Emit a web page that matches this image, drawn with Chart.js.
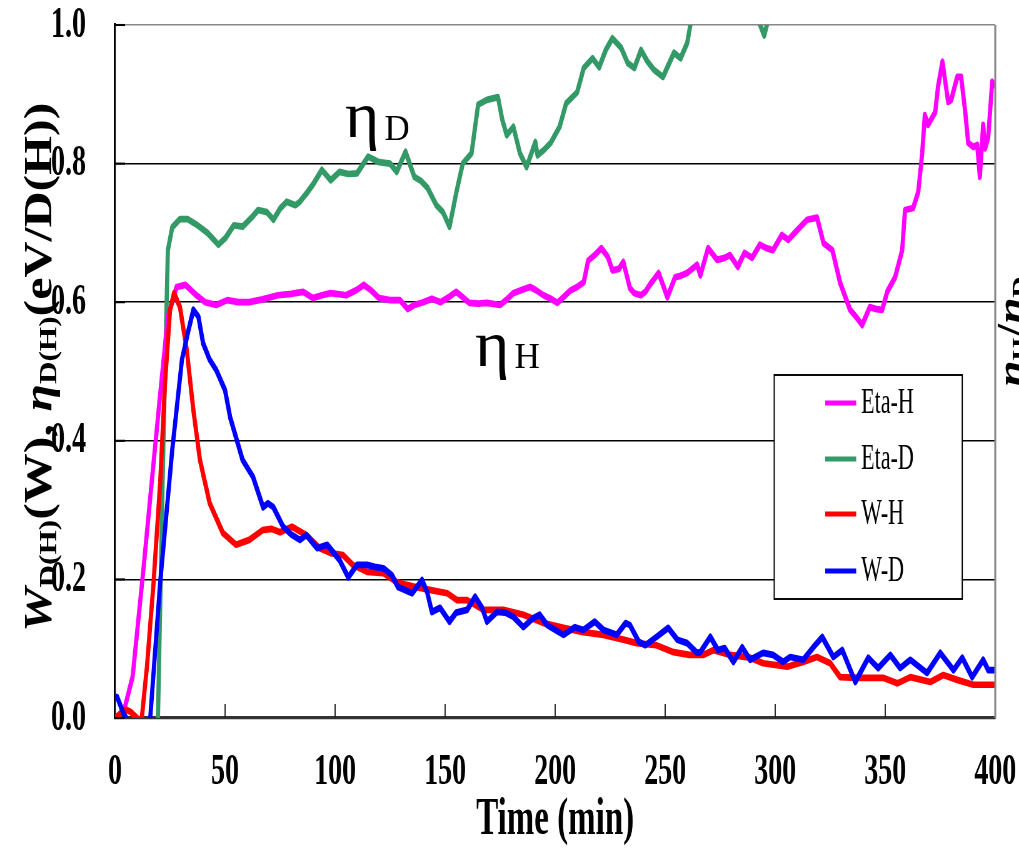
<!DOCTYPE html>
<html>
<head>
<meta charset="utf-8">
<script src="https://cdn.jsdelivr.net/npm/chart.js@4.4.1/dist/chart.umd.min.js"></script>
<style>
  html, body { margin: 0; padding: 0; background: #fff; overflow: hidden; }
  /* the plot is laid out in a short frame and stretched tall */
  #wrap { position: absolute; left: 0; top: 0; width: 1019px; height: 530px;
          transform: scaleY(1.6); transform-origin: 0 0; }
</style>
</head>
<body>
<div id="wrap"><canvas id="c" width="1019" height="530"></canvas></div>
<script>
// Time axis (min) and value axis ticks
const xTicks = [0, 50, 100, 150, 200, 250, 300, 350, 400];
const yTicks = [0.0, 0.2, 0.4, 0.6, 0.8, 1.0];

// Eta-H : energy per desorbed H (eV/H)
const etaHTime = [1,4.5,8,13,17.5,21,24,28,32,37,41,46,51,56,61,67,74,80,85.5,90,94,98,105,110,113,116,120,125,129.5,133,136,140,144,148,152,155,158,161,165,169,175,178,181,185,188.6,191,194.7,198,201,204,207,210,213,215,218,221,224,226,229,231,234,236,239,241,243,247,249,251,254.5,257,260,264.5,266,269.5,273.6,277,279.5,283,286,289.5,293,296,299,303,306,310,314.5,319,322,326,329.5,334,337,339.5,343,346,348.6,350.9,354.5,357.7,359,362.7,365,366.8,368,369.5,372.7,374,376,378.6,380,382.7,384.5,386.4,387.7,390,391.8,393,394.5,395.4,396.8,398.6,400];
const etaHValue = [0.0,0.016,0.06,0.218,0.368,0.483,0.579,0.622,0.625,0.61,0.60,0.596,0.603,0.60,0.60,0.604,0.61,0.612,0.615,0.606,0.61,0.613,0.61,0.618,0.625,0.618,0.606,0.603,0.603,0.59,0.596,0.60,0.605,0.60,0.608,0.615,0.607,0.599,0.598,0.599,0.596,0.604,0.613,0.618,0.622,0.618,0.61,0.605,0.599,0.608,0.617,0.622,0.629,0.66,0.668,0.678,0.665,0.646,0.648,0.658,0.62,0.613,0.61,0.615,0.625,0.642,0.625,0.607,0.636,0.638,0.642,0.654,0.639,0.678,0.661,0.664,0.668,0.651,0.671,0.664,0.683,0.678,0.675,0.697,0.69,0.704,0.719,0.722,0.685,0.675,0.628,0.589,0.578,0.567,0.593,0.59,0.589,0.615,0.636,0.675,0.733,0.736,0.759,0.815,0.87,0.856,0.874,0.911,0.947,0.889,0.892,0.925,0.925,0.873,0.83,0.824,0.827,0.781,0.856,0.822,0.838,0.918,0.911];

// Eta-D : energy per desorbed D (eV/D)
const etaDTime = [18,19.5,22,24,26,29.5,33,37,42,47,50,54,58,62,65,69,72,75,78,82,84,87,90,94,98,102,106,110,115,120,125,128,132,136,139,142,146,149,152,155,158,162,165,169,174,176,178,181,184,187,191,192,195,198,202,205,210,213,217,220,223,226,230,233,236,239,242,245,249,254,257,260,262,268,276,285,292,295,297,305,320,340,360,380,400];
const etaDValue = [-0.1,0.0,0.4,0.675,0.708,0.72,0.72,0.712,0.70,0.683,0.692,0.711,0.709,0.722,0.733,0.730,0.719,0.735,0.745,0.740,0.745,0.757,0.77,0.791,0.776,0.788,0.785,0.786,0.81,0.802,0.80,0.788,0.817,0.781,0.775,0.765,0.74,0.73,0.709,0.757,0.80,0.815,0.885,0.892,0.896,0.863,0.841,0.853,0.815,0.795,0.831,0.812,0.82,0.83,0.853,0.887,0.903,0.938,0.952,0.939,0.964,0.981,0.967,0.945,0.938,0.964,0.947,0.935,0.925,0.96,0.952,0.974,1.01,1.04,1.06,1.04,1.01,0.985,1.01,1.05,1.08,1.1,1.12,1.15,1.17];

// W-H : input power, H discharge (W)
const wHTime = [0,3,5,7,10,12,14.5,17.5,20.5,22.7,25,26.8,29.5,32.6,35.6,38.6,43,49,55,61,67,71,75,80.4,87,93,98,103.6,108,114.5,122,128,132.6,138,143,151,155.4,160,167.4,176.5,185.6,194.7,203.8,212.8,221.9,231,237,246,253.8,261,267.3,272,279.5,288.6,294.5,305.5,312.7,319,325,329.5,337.3,349,355.5,361.4,370.5,376.4,382.7,390,400];
const wHValue = [0.0,0.008,0.012,0.009,0.0,-0.005,0.074,0.195,0.339,0.483,0.589,0.613,0.593,0.531,0.444,0.372,0.31,0.267,0.25,0.257,0.271,0.273,0.268,0.276,0.264,0.245,0.238,0.235,0.221,0.211,0.209,0.196,0.192,0.188,0.185,0.18,0.17,0.17,0.156,0.156,0.149,0.137,0.13,0.124,0.12,0.113,0.108,0.105,0.095,0.091,0.091,0.098,0.091,0.087,0.079,0.074,0.081,0.088,0.079,0.059,0.058,0.058,0.05,0.059,0.052,0.062,0.055,0.048,0.048];

// W-D : input power, D discharge (W)
const wDTime = [0,1,3.8,6,10,15,16,20.5,26,30.4,33.4,35.6,37.9,40,43,46,50,52.3,58,62.7,67.3,69.5,72,76.4,80,84,87,91.8,96.4,102,106,110,114.5,118,122,125.8,128.6,135,139.5,141.8,144,147.7,152,155,160,163.6,166.8,169,173.6,177.3,181,185.6,190,193,196.4,203.8,209,212.8,218,222,228,232,234,238,241,246,251.4,255.5,260,264.5,266,270.5,274,277,281,285,288.6,294.5,299,303.6,306.8,312.7,317.3,321.4,326.4,330.5,336.4,342.3,346.8,352.3,356.8,361.4,369,375,381,385,389.5,394.5,396.8,400];
const wDValue = [0.03,0.03,0.007,-0.005,-0.02,-0.01,0.0,0.195,0.387,0.517,0.56,0.589,0.579,0.541,0.517,0.502,0.473,0.434,0.372,0.348,0.304,0.31,0.304,0.276,0.265,0.257,0.264,0.245,0.25,0.228,0.203,0.221,0.221,0.218,0.216,0.206,0.189,0.18,0.199,0.182,0.153,0.159,0.139,0.152,0.156,0.175,0.159,0.139,0.153,0.152,0.146,0.131,0.144,0.149,0.134,0.12,0.131,0.127,0.139,0.127,0.12,0.137,0.134,0.11,0.105,0.117,0.13,0.113,0.108,0.094,0.095,0.117,0.098,0.101,0.081,0.102,0.084,0.094,0.091,0.081,0.088,0.084,0.102,0.117,0.088,0.098,0.052,0.087,0.072,0.091,0.072,0.084,0.065,0.094,0.069,0.087,0.059,0.084,0.069,0.069];

const seriesNames = ['Eta-H', 'Eta-D', 'W-H', 'W-D'];
const seriesColors = ['#ff00ff', '#339966', '#ff0000', '#0000ff'];

const S = 1.6;                 // vertical stretch of the frame
const SERIF = '"Liberation Serif", "Times New Roman", serif';

function pts(t, v) { return t.map((tt, i) => ({ x: tt, y: v[i] })); }

function makeSet(i, data, order) {
  return {
    label: seriesNames[i], data, order,
    borderColor: seriesColors[i], backgroundColor: seriesColors[i],
    borderWidth: 4.2, pointRadius: 0, tension: 0, fill: false,
    borderJoinStyle: 'round', clip: 0
  };
}

// draws runs of [text, font, baselineShift] along the current x axis
function drawRuns(ctx, runs) {
  let cx = 0;
  runs.forEach(([txt, font, dy]) => {
    ctx.font = font;
    ctx.fillText(txt, cx, dy);
    cx += ctx.measureText(txt).width;
  });
}

// no extra room for edge labels: the plot area is fixed by the layout padding
function noEdgePadding(s) {
  s.paddingLeft = 0; s.paddingRight = 0; s.paddingTop = 0; s.paddingBottom = 0;
}

const decor = {
  id: 'decor',
  afterDatasetsDraw(chart) {
    const { ctx } = chart;
    // legend box
    const bx = 774, by = 375 / S, bw = 188, bh = 224 / S;
    const rows = [403, 459, 514, 571];
    ctx.save();
    ctx.fillStyle = '#fff';
    ctx.fillRect(bx, by, bw, bh);
    ctx.strokeStyle = '#000';
    ctx.lineWidth = 1.2;
    ctx.strokeRect(bx, by, bw, bh);
    ctx.textBaseline = 'middle';
    ctx.textAlign = 'left';
    ctx.font = '22px ' + SERIF;
    chart.data.datasets.slice().sort((a, b) => seriesNames.indexOf(a.label) - seriesNames.indexOf(b.label))
      .forEach((ds, i) => {
        const ry = rows[i] / S;
        ctx.strokeStyle = ds.borderColor;
        ctx.lineWidth = 3.2;
        ctx.beginPath();
        ctx.moveTo(825, ry); ctx.lineTo(856, ry);
        ctx.stroke();
        ctx.fillStyle = '#000';
        ctx.fillText(ds.label, 861, ry + 0.5);
      });
    ctx.restore();
  },
  afterDraw(chart) {
    const { ctx, chartArea: ca, scales: { x, y } } = chart;
    ctx.save();
    // right frame edge
    ctx.strokeStyle = '#888';
    ctx.lineWidth = 2;
    ctx.beginPath();
    ctx.moveTo(ca.right, ca.top); ctx.lineTo(ca.right, ca.bottom);
    ctx.stroke();
    // inward tick marks
    ctx.strokeStyle = '#222';
    ctx.lineWidth = 1.2;
    x.ticks.forEach(t => {
      const px = x.getPixelForValue(t.value);
      if (px <= ca.left + 1 || px >= ca.right - 1) return;
      ctx.beginPath();
      ctx.moveTo(px, ca.bottom); ctx.lineTo(px, ca.bottom - 14 / S);
      ctx.stroke();
    });
    ctx.lineWidth = 1.3;
    ctx.strokeStyle = '#000';
    y.ticks.forEach(t => {
      const py = y.getPixelForValue(t.value);
      ctx.beginPath();
      ctx.moveTo(ca.left, py); ctx.lineTo(ca.left + 10, py);
      ctx.stroke();
    });

    ctx.fillStyle = '#000';
    ctx.textAlign = 'left';
    ctx.textBaseline = 'alphabetic';

    // curve labels, drawn without the frame stretch
    const annot = (t, v, sub, dSub) => {
      ctx.save();
      ctx.scale(1, 1 / S);
      const px = x.getPixelForValue(t), py = y.getPixelForValue(v) * S;
      ctx.font = '66px ' + SERIF;
      ctx.fillText('η', px, py);
      const w = ctx.measureText('η').width;
      ctx.font = '35px ' + SERIF;
      ctx.fillText(sub, px + w + 5, py + dSub);
      ctx.restore();
    };
    annot(104.5, 0.838, 'D', 3);
    annot(163.6, 0.508, 'H', 2);

    // y axis title
    ctx.save();
    ctx.scale(1, 1 / S);
    ctx.translate(51, 632);
    ctx.rotate(-Math.PI / 2);
    ctx.scale(1.25, 1);
    const F = 'bold 40px ' + SERIF, FI = 'italic bold 40px ' + SERIF, FS = 'bold 25px ' + SERIF;
    drawRuns(ctx, [['W', FI, 0], ['D(H)', FS, 5], ['(W), ', F, 0], ['η', FI, 0], ['D(H)', FS, 5], ['(eV/D(H))', F, 0]]);
    ctx.restore();

    // secondary axis title at the right edge
    ctx.save();
    ctx.scale(1, 1 / S);
    ctx.translate(1024, 387);
    ctx.rotate(-Math.PI / 2);
    ctx.scale(1.2, 1);
    drawRuns(ctx, [['η', FI, 0], ['H', FS, 5], ['/', F, 0], ['η', FI, 0], ['D', FS, 5]]);
    ctx.restore();

    ctx.restore();
  }
};

new Chart(document.getElementById('c'), {
  type: 'line',
  data: {
    datasets: [
      makeSet(3, pts(wDTime, wDValue), 0),
      makeSet(2, pts(wHTime, wHValue), 1),
      makeSet(0, pts(etaHTime, etaHValue), 2),
      makeSet(1, pts(etaDTime, etaDValue), 3)
    ]
  },
  options: {
    responsive: false,
    devicePixelRatio: S,
    animation: false,
    layout: { padding: { left: 0, right: 24, top: 25 / S, bottom: 0 } },
    plugins: { legend: { display: false }, tooltip: { enabled: false } },
    scales: {
      x: {
        type: 'linear', min: xTicks[0], max: xTicks[xTicks.length - 1],
        afterBuildTicks: s => { s.ticks = xTicks.map(v => ({ value: v })); },
        afterFit: s => { s.height = 530 - 718 / S; noEdgePadding(s); },
        ticks: {
          color: '#000', padding: 20,
          font: { family: SERIF, size: 28, weight: 'bold', lineHeight: 1 },
          callback: v => String(v), maxRotation: 0
        },
        grid: { display: false, drawTicks: false },
        border: { display: true, color: '#333', width: 2 },
        title: {
          display: true, text: 'Time (min)', color: '#000',
          font: { family: SERIF, size: 33, weight: 'bold', lineHeight: 1 },
          padding: { top: 0, bottom: 1 }
        }
      },
      y: {
        min: yTicks[0], max: yTicks[yTicks.length - 1],
        afterBuildTicks: s => { s.ticks = yTicks.map(v => ({ value: v })); },
        afterFit: s => { s.width = 115; noEdgePadding(s); },
        ticks: {
          color: '#000', padding: 29,
          font: { family: SERIF, size: 28, weight: 'bold', lineHeight: 1 },
          callback: v => Number(v).toFixed(1)
        },
        grid: {
          drawTicks: false, lineWidth: 1,
          color: c => (c.tick && c.tick.value === 1 ? '#888' : '#000')
        },
        border: { display: true, color: '#000', width: 2 }
      }
    }
  },
  plugins: [decor]
});
</script>
</body>
</html>
